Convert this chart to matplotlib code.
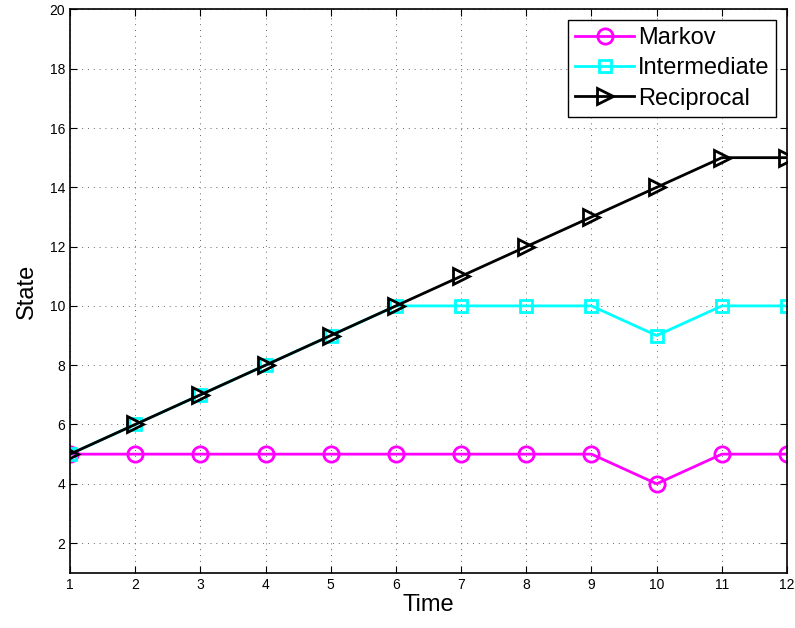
import numpy as np
import matplotlib
matplotlib.use("Agg")
import matplotlib.pyplot as plt

plt.rcParams['font.family'] = ['Liberation Sans', 'DejaVu Sans']

time = [1, 2, 3, 4, 5, 6, 7, 8, 9, 10, 11, 12]
markov = [5, 5, 5, 5, 5, 5, 5, 5, 5, 4, 5, 5]
intermediate = [5, 6, 7, 8, 9, 10, 10, 10, 10, 9, 10, 10]
reciprocal = [5, 6, 7, 8, 9, 10, 11, 12, 13, 14, 15, 15]

fig = plt.figure(figsize=(7.95, 6.28), dpi=100)
ax = fig.add_axes([0.088, 0.088, 0.902, 0.897])

ax.plot(time, markov, color='#ff00ff', lw=2, marker='o', ms=11, mfc='none', mew=2, label='Markov')
ax.plot(time, intermediate, color='#00ffff', lw=2, marker='s', ms=9, mfc='none', mew=2, label='Intermediate')
ax.plot(time, reciprocal, color='black', lw=2, marker='>', ms=12, mfc='none', mew=2, label='Reciprocal')

ax.set_xlim(1, 12)
ax.set_ylim(1, 20)
ax.set_xticks(range(1, 13))
ax.set_yticks(range(2, 21, 2))
ax.tick_params(direction='in', top=True, right=True, labelsize=10, length=5)
ax.grid(True, linestyle=(0, (1, 5)), color='black', lw=0.7, alpha=0.6)
for s in ax.spines.values():
    s.set_linewidth(1.2)
ax.set_xlabel('Time', fontsize=17, labelpad=2)
ax.set_ylabel('State', fontsize=17, labelpad=8)

leg = ax.legend(loc='upper right', fontsize=17, fancybox=False, edgecolor='black',
                framealpha=1, handlelength=2.5, handletextpad=0.15, borderpad=0.3,
                labelspacing=0.35, borderaxespad=0.45)
leg.get_frame().set_linewidth(1)

fig.savefig('out.png', dpi=100)
